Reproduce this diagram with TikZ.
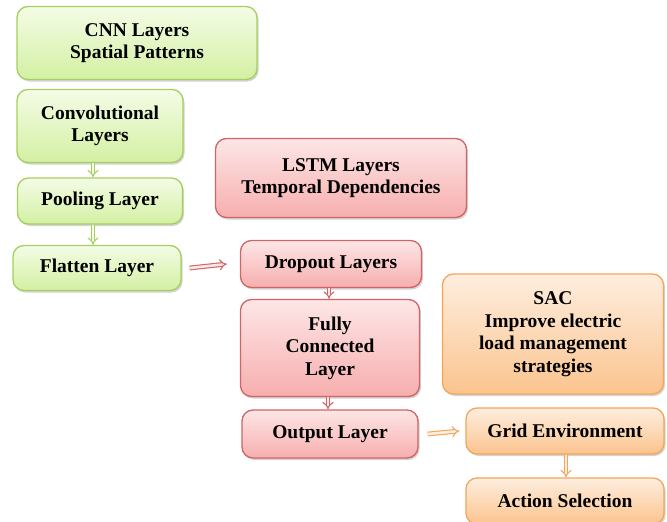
\documentclass[tikz,border=0pt]{standalone}
\usepackage{fontspec}
\setmainfont{Liberation Serif}
\usetikzlibrary{shadows,arrows.meta}
\definecolor{gline}{HTML}{A6D05E}
\definecolor{gtop}{HTML}{F4FCE6}
\definecolor{gbot}{HTML}{D3F0A2}
\definecolor{rline}{HTML}{D06466}
\definecolor{rtop}{HTML}{FDE6E6}
\definecolor{rbot}{HTML}{F7AEAE}
\definecolor{oline}{HTML}{F5A55A}
\definecolor{otop}{HTML}{FEEEDF}
\definecolor{obot}{HTML}{FBC48E}
\tikzset{
  box/.style={rounded corners=11pt, line width=1.3pt, align=center,
    font=\fontsize{19.5}{22.5}\selectfont\bfseries,
    drop shadow={shadow xshift=1.5pt, shadow yshift=-2pt, opacity=0.35},
    inner sep=0pt},
  gbox/.style={box, draw=gline, top color=gtop, bottom color=gbot},
  rbox/.style={box, draw=rline, top color=rtop, bottom color=rbot},
  obox/.style={box, draw=oline, top color=otop, bottom color=obot},
  conn/.style={line width=1.1pt, double distance=2.6pt, -{Implies[]}},
  gconn/.style={conn, draw=gline, double=gtop},
  rconn/.style={conn, draw=rline, double=rtop},
  oconn/.style={conn, draw=oline, double=otop},
}
\begin{document}
\begin{tikzpicture}[x=1pt,y=-1pt]
\useasboundingbox (0,0) rectangle (667,522);
\node[gbox, minimum width=240pt, minimum height=73pt] (cnn) at (137,43) {CNN Layers\\Spatial Patterns};
\node[gbox, minimum width=166pt, minimum height=73pt] (conv) at (100,126) {Convolutional\\Layers};
\node[gbox, minimum width=165pt, minimum height=46pt] (pool) at (100,201) {Pooling Layer};
\node[gbox, minimum width=168pt, minimum height=45pt] (flat) at (97,268) {Flatten Layer};
\node[rbox, minimum width=251pt, minimum height=79pt] (lstm) at (341,178) {LSTM Layers\\Temporal Dependencies};
\node[rbox, minimum width=181pt, minimum height=47pt] (drop) at (331,264) {Dropout Layers};
\node[rbox, minimum width=179pt, minimum height=97pt] (fc) at (330,348) {Fully\\Connected\\Layer};
\node[rbox, minimum width=176pt, minimum height=48pt] (out) at (330,434) {Output Layer};
\node[obox, minimum width=221pt, minimum height=120pt] (sac) at (553,334) {SAC\\Improve electric\\load management\\strategies};
\node[obox, minimum width=198pt, minimum height=46pt] (grid) at (565,431) {Grid Environment};
\node[obox, minimum width=198pt, minimum height=46pt] (act) at (565,501) {Action Selection};

\draw[gconn] ([xshift=-7pt]conv.south) -- ([xshift=-7pt]pool.north);
\draw[gconn] ([xshift=-7pt]pool.south) -- ([xshift=-4pt]flat.north);
\draw[rconn] ([xshift=8pt]flat.east) -- ([xshift=-13pt]drop.west);
\draw[rconn] ([xshift=-2pt]drop.south) -- ([xshift=-1pt]fc.north);
\draw[rconn] ([xshift=-2pt]fc.south) -- ([xshift=-2pt]out.north);
\draw[oconn] ([xshift=9pt]out.east) -- ([xshift=-6pt]grid.west);
\draw[oconn] ([xshift=1pt]grid.south) -- ([xshift=1pt]act.north);
\end{tikzpicture}
\end{document}
